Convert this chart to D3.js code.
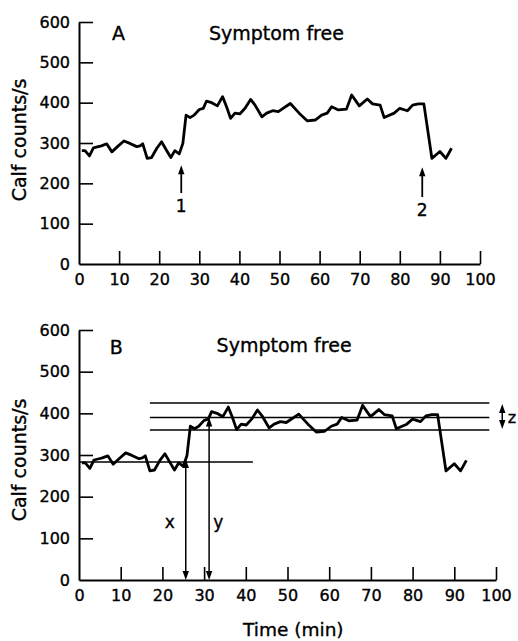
<!DOCTYPE html>
<html><head><meta charset="utf-8">
<script src="https://cdn.jsdelivr.net/npm/d3@7"></script>
<style>
html,body{margin:0;padding:0;background:#fff;}
svg{display:block;font-family:"DejaVu Sans",sans-serif;}
text{stroke:#000;stroke-width:0.35px;}
</style></head>
<body>
<svg id="c" width="518" height="641"></svg>
<script>
// Data (time in min, calf counts/s)
const times = [0.7,1.5,2.6,3.6,4.8,5.6,6.9,8.2,9.6,11.2,12.7,14.4,15.2,15.9,17.0,18.1,19.4,20.6,21.7,22.9,23.9,25.0,25.9,26.7,27.7,28.7,30.0,31.0,31.8,33.1,34.5,35.8,36.8,37.8,38.9,40.1,41.4,42.8,43.9,45.6,46.8,48.3,49.7,52.7,54.9,56.9,58.9,60.5,61.9,63.0,64.7,66.7,68.0,69.9,71.9,73.2,75.1,76.1,78.6,80.0,81.9,83.2,84.6,86.0,88.0,90.0,91.5,92.9];
const counts = [281,281,268,288,291,293,298,278,291,305,299,291,293,298,262,264,287,303,284,264,281,273,299,369,363,369,383,386,404,400,392,415,390,361,374,372,386,408,394,365,374,380,378,398,374,355,357,369,374,390,382,384,419,392,409,397,394,363,374,386,380,394,397,397,262,279,262,287];
const xTicks = [0,10,20,30,40,50,60,70,80,90,100];
const yTicks = [0,100,200,300,400,500,600];
// Panel B annotation levels
const baselineLevel = 283;
const zLevels = [425,390,360];

const svg = d3.select("#c");
const data = times.map((t,i)=>({t, v:counts[i]}));

function panel(cfg){
  const x = d3.scaleLinear().domain([0,100]).range(cfg.xr);
  const y = d3.scaleLinear().domain([0,600]).range(cfg.yr);
  const g = svg.append("g");
  const ya = d3.axisLeft(y).tickValues(yTicks).tickSizeInner(-14).tickSizeOuter(0).tickPadding(9);
  const yg = g.append("g").attr("transform",`translate(${cfg.xr[0]},0)`).call(ya);
  const xa = d3.axisBottom(x).tickValues(xTicks).tickSizeInner(-13).tickSizeOuter(0).tickPadding(10);
  const xg = g.append("g").attr("transform",`translate(0,${cfg.yr[0]})`).call(xa);
  [yg,xg].forEach(a=>{
    a.selectAll("path.domain").attr("stroke","#000").attr("stroke-width",2);
    a.selectAll(".tick line").attr("stroke","#000").attr("stroke-width",1.6);
    a.selectAll(".tick text").attr("fill","#000").style("font-size","16px").style("font-family","DejaVu Sans");
  });
  xg.selectAll(".tick").filter(d=>d===0).select("line").remove();
  yg.selectAll(".tick").filter(d=>d===0).select("line").remove();
  g.append("path").datum(data)
    .attr("fill","none").attr("stroke","#000").attr("stroke-width",2.8)
    .attr("stroke-linejoin","round")
    .attr("d", d3.line().x(d=>x(d.t)).y(d=>y(d.v)));
  g.append("text").attr("transform",`translate(19,${cfg.ylabY}) rotate(-90)`)
    .attr("text-anchor","middle").attr("dominant-baseline","central")
    .style("font-size","19px").text("Calf counts/s");
  g.append("text").attr("x",x(cfg.letterT)).attr("y",y(cfg.letterV)).style("font-size","19px").text(cfg.letter);
  g.append("text").attr("x",x(cfg.titleT)).attr("y",y(cfg.titleV)).style("font-size","19px").text("Symptom free");
  return {g,x,y};
}

function head(g, px, py, dir){ // dir: -1 up, 1 down
  g.append("path").attr("d",`M${px},${py} L${px-3.2},${py-dir*9} L${px+3.2},${py-dir*9} Z`).attr("fill","#000");
}

// Panel A
const A = panel({xr:[79,480], yr:[264,22], ylabY:140, letter:"A", letterT:8.2, letterV:556, titleT:32.4, titleV:556});
[{t:25.5,top:245,bot:176,lab:"1",labV:130},{t:85.6,top:240,bot:166,lab:"2",labV:120}].forEach(a=>{
  const px=A.x(a.t);
  A.g.append("line").attr("x1",px).attr("x2",px).attr("y1",A.y(a.top)+6).attr("y2",A.y(a.bot)).attr("stroke","#000").attr("stroke-width",1.8);
  head(A.g,px,A.y(a.top),-1);
  A.g.append("text").attr("x",px).attr("y",A.y(a.labV)).attr("text-anchor","middle").style("font-size","17px").text(a.lab);
});

// Panel B
const B = panel({xr:[79,496], yr:[580,330], ylabY:460, letter:"B", letterT:7.4, letterV:543, titleT:33, titleV:547});
B.g.append("line").attr("x1",B.x(0)).attr("x2",B.x(41.7)).attr("y1",B.y(baselineLevel)).attr("y2",B.y(baselineLevel)).attr("stroke","#000").attr("stroke-width",1.5);
zLevels.forEach(v=>{
  B.g.append("line").attr("x1",B.x(17)).attr("x2",B.x(98.4)).attr("y1",B.y(v)).attr("y2",B.y(v)).attr("stroke","#000").attr("stroke-width",1.5);
});
function dbl(g,px,y1,y2){
  g.append("line").attr("x1",px).attr("x2",px).attr("y1",y1+6).attr("y2",y2-6).attr("stroke","#000").attr("stroke-width",1.5);
  head(g,px,y1,-1); head(g,px,y2,1);
}
dbl(B.g,B.x(25.6),B.y(baselineLevel)-3,B.y(0));
dbl(B.g,B.x(31.2),B.y(390),B.y(0));
dbl(B.g,B.x(101.5),B.y(425)+1,B.y(360)-1);
B.g.append("text").attr("x",B.x(21.8)).attr("y",B.y(140)).attr("text-anchor","middle").attr("dominant-baseline","central").style("font-size","17px").text("x");
B.g.append("text").attr("x",B.x(33.4)).attr("y",B.y(140)).attr("text-anchor","middle").attr("dominant-baseline","central").style("font-size","17px").text("y");
B.g.append("text").attr("x",B.x(103.8)).attr("y",B.y(389)).attr("text-anchor","middle").attr("dominant-baseline","central").style("font-size","16px").text("z");
svg.append("text").attr("x",B.x(51.4)).attr("y",636).attr("text-anchor","middle").style("font-size","18.5px").text("Time (min)");
</script>
</body></html>
